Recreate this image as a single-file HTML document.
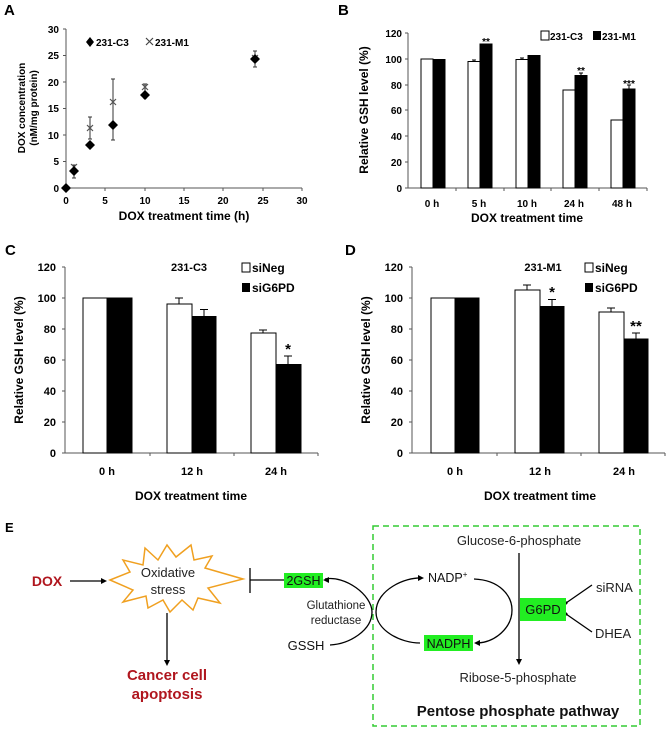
<!DOCTYPE html>
<html><head><meta charset="utf-8"><style>
body{margin:0;background:#fff}
svg{display:block;font-family:"Liberation Sans",Arial,sans-serif}
.t{font-size:10px;font-weight:bold}
.ti{font-size:12px;font-weight:bold}
.u{font-size:11px;font-weight:bold}
</style></head><body>
<svg width="669" height="731" viewBox="0 0 669 731" xmlns="http://www.w3.org/2000/svg">
<g fill="#000" stroke="none">
<!-- Panel A -->
<text x="4" y="15" font-size="15" font-weight="bold">A</text>
<g stroke="#555" stroke-width="1" fill="none">
<line x1="66" y1="29" x2="66" y2="188"/><line x1="66" y1="188" x2="302" y2="188"/>
<path d="M63 29h3M63 55.5h3M63 82h3M63 108.5h3M63 135h3M63 161.5h3M63 188h3"/>
<path d="M66 188v3M105 188v3M145 188v3M184 188v3M223 188v3M263 188v3M302 188v3"/>
</g>
<g class="t" text-anchor="end"><text x="59" y="33">30</text><text x="59" y="59">25</text><text x="59" y="86">20</text><text x="59" y="112">15</text><text x="59" y="139">10</text><text x="59" y="165">5</text><text x="59" y="192">0</text></g>
<g class="t" text-anchor="middle"><text x="66" y="204">0</text><text x="105" y="204">5</text><text x="145" y="204">10</text><text x="184" y="204">15</text><text x="223" y="204">20</text><text x="263" y="204">25</text><text x="302" y="204">30</text></g>
<text class="ti" x="184" y="220" text-anchor="middle">DOX treatment time (h)</text>
<text class="t" transform="translate(25,108) rotate(-90)" text-anchor="middle"><tspan x="0" y="0">DOX concentration</tspan><tspan x="0" y="12">(nM/mg protein)</tspan></text>
<path d="M90 37l4 5l-4 5l-4-5z"/><text class="t" x="96" y="46" font-size="11">231-C3</text>
<path d="M146 38l7 7M153 38l-7 7" stroke="#444" stroke-width="1.2"/><text class="t" x="155" y="46" font-size="11">231-M1</text>
<g stroke="#333" stroke-width="1" fill="none">
<path d="M74 165v13M72 165h4M72 178h4"/>
<path d="M90 117v22M88 117h4M88 139h4"/>
<path d="M113 79v61M111 79h4M111 140h4"/>
<path d="M145 84v14M143 84h4M143 98h4"/>
<path d="M255 51v16M253 51h4M253 67h4"/>
</g>
<g stroke="#555" stroke-width="1.2" fill="none">
<path d="M71 164l6 6M77 164l-6 6M87 125l6 6M93 125l-6 6M110 99l6 6M116 99l-6 6M142 84l6 6M148 84l-6 6M252 55l6 6M258 55l-6 6"/>
</g>
<path d="M66 183l5 5l-5 5l-5-5zM74 166l5 5l-5 5l-5-5zM90 140l5 5l-5 5l-5-5zM113 120l5 5l-5 5l-5-5zM145 90l5 5l-5 5l-5-5zM255 54l5 5l-5 5l-5-5z"/>

<!-- Panel B -->
<text x="338" y="15" font-size="15" font-weight="bold">B</text>
<g stroke="#555" fill="none"><line x1="408" y1="33" x2="408" y2="188"/><line x1="408" y1="188" x2="647" y2="188"/>
<path d="M405 33h3M405 59h3M405 85h3M405 110h3M405 136h3M405 162h3M405 188h3M456 188v3M504 188v3M551 188v3M599 188v3M647 188v3"/></g>
<g class="t" text-anchor="end"><text x="402" y="37">120</text><text x="402" y="63">100</text><text x="402" y="89">80</text><text x="402" y="114">60</text><text x="402" y="140">40</text><text x="402" y="166">20</text><text x="402" y="192">0</text></g>
<g class="t" text-anchor="middle"><text x="432" y="207">0 h</text><text x="479" y="207">5 h</text><text x="527" y="207">10 h</text><text x="574" y="207">24 h</text><text x="622" y="207">48 h</text></g>
<text class="ti" x="527" y="222" text-anchor="middle">DOX treatment time</text>
<text class="ti" transform="translate(368,110) rotate(-90)" text-anchor="middle">Relative GSH level (%)</text>
<g stroke="#000" stroke-width="1">
<rect x="421" y="59" width="12" height="129" fill="#fff"/><rect x="433" y="59.5" width="12" height="128.5"/>
<rect x="468" y="61.5" width="12" height="126.5" fill="#fff"/><rect x="480" y="44" width="12" height="144"/>
<rect x="516" y="59.5" width="12" height="128.5" fill="#fff"/><rect x="528" y="55.5" width="12" height="132.5"/>
<rect x="563" y="90" width="12" height="98" fill="#fff"/><rect x="575" y="75.5" width="12" height="112.5"/>
<rect x="611" y="120" width="12" height="68" fill="#fff"/><rect x="623" y="89" width="12" height="99"/>
<path d="M474 60v2M472 60h4M522 58v2M520 58h4M581 73v3M579 73h4M629 85v4M627 85h4" fill="none"/>
</g>
<g class="t" text-anchor="middle" font-size="11"><text x="486" y="45">**</text><text x="581" y="74">**</text><text x="629" y="87">***</text></g>
<rect x="541" y="31" width="8" height="9" fill="#fff" stroke="#000"/><text class="t" x="550" y="40" font-size="11">231-C3</text>
<rect x="593" y="31" width="8" height="9"/><text class="t" x="602" y="40" font-size="11">231-M1</text>

<!-- Panel C -->
<text x="5" y="255" font-size="15" font-weight="bold">C</text>
<g stroke="#555" fill="none"><line x1="65" y1="267" x2="65" y2="453"/><line x1="65" y1="453" x2="318" y2="453"/>
<path d="M62 267h3M62 298h3M62 329h3M62 360h3M62 391h3M62 422h3M62 453h3M150 453v3M234 453v3M318 453v3"/></g>
<g class="u" text-anchor="end"><text x="56" y="271">120</text><text x="56" y="302">100</text><text x="56" y="333">80</text><text x="56" y="364">60</text><text x="56" y="395">40</text><text x="56" y="426">20</text><text x="56" y="457">0</text></g>
<g class="u" text-anchor="middle"><text x="107" y="475">0 h</text><text x="192" y="475">12 h</text><text x="276" y="475">24 h</text></g>
<text class="ti" x="191" y="500" text-anchor="middle">DOX treatment time</text>
<text class="ti" transform="translate(23,360) rotate(-90)" text-anchor="middle">Relative GSH level (%)</text>
<text class="u" x="189" y="271" text-anchor="middle">231-C3</text>
<rect x="242" y="263" width="8" height="9" fill="#fff" stroke="#000"/><text class="ti" x="252" y="272">siNeg</text>
<rect x="242" y="283" width="8" height="9"/><text class="ti" x="252" y="292">siG6PD</text>
<g stroke="#000">
<rect x="83" y="298" width="24" height="155" fill="#fff"/><rect x="107" y="298" width="25" height="155"/>
<rect x="167" y="304" width="25" height="149" fill="#fff"/><rect x="192" y="316.5" width="24" height="136.5"/>
<rect x="251" y="333" width="25" height="120" fill="#fff"/><rect x="276" y="364.5" width="25" height="88.5"/>
<path d="M179 298v6M175 298h8M204 309.5v7M200 309.5h8M263 330v3M259 330h8M288 356v8.5M284 356h8" fill="none"/>
</g>
<text x="288" y="354" text-anchor="middle" font-size="15" font-weight="bold">*</text>

<!-- Panel D -->
<text x="345" y="255" font-size="15" font-weight="bold">D</text>
<g stroke="#555" fill="none"><line x1="412" y1="267" x2="412" y2="453"/><line x1="412" y1="453" x2="665" y2="453"/>
<path d="M409 267h3M409 298h3M409 329h3M409 360h3M409 391h3M409 422h3M409 453h3M497 453v3M581 453v3M665 453v3"/></g>
<g class="u" text-anchor="end"><text x="403" y="271">120</text><text x="403" y="302">100</text><text x="403" y="333">80</text><text x="403" y="364">60</text><text x="403" y="395">40</text><text x="403" y="426">20</text><text x="403" y="457">0</text></g>
<g class="u" text-anchor="middle"><text x="455" y="475">0 h</text><text x="540" y="475">12 h</text><text x="624" y="475">24 h</text></g>
<text class="ti" x="540" y="500" text-anchor="middle">DOX treatment time</text>
<text class="ti" transform="translate(370,360) rotate(-90)" text-anchor="middle">Relative GSH level (%)</text>
<text class="u" x="543" y="271" text-anchor="middle">231-M1</text>
<rect x="585" y="263" width="8" height="9" fill="#fff" stroke="#000"/><text class="ti" x="595" y="272">siNeg</text>
<rect x="585" y="283" width="8" height="9"/><text class="ti" x="595" y="292">siG6PD</text>
<g stroke="#000">
<rect x="431" y="298" width="24" height="155" fill="#fff"/><rect x="455" y="298" width="24" height="155"/>
<rect x="515" y="290" width="25" height="163" fill="#fff"/><rect x="540" y="306.5" width="24" height="146.5"/>
<rect x="599" y="312" width="25" height="141" fill="#fff"/><rect x="624" y="339" width="24" height="114"/>
<path d="M527 285v5M523 285h8M552 299.5v7M548 299.5h8M611 308v4M607 308h8M636 333v6M632 333h8" fill="none"/>
</g>
<text x="552" y="297" text-anchor="middle" font-size="15" font-weight="bold">*</text>
<text x="636" y="331" text-anchor="middle" font-size="15" font-weight="bold">**</text>

<!-- Panel E -->
<text x="5" y="532" font-size="13" font-weight="bold">E</text>
<rect x="373" y="526" width="267" height="200" fill="none" stroke="#3c3" stroke-width="1.5" stroke-dasharray="6,4"/>
<text x="47" y="586" font-size="14" font-weight="bold" fill="#b0161e" text-anchor="middle">DOX</text>
<g stroke="#000" stroke-width="1.3" fill="none">
<line x1="70" y1="581" x2="102" y2="581"/><line x1="167" y1="613" x2="167" y2="662"/>
<line x1="250" y1="568" x2="250" y2="593"/><line x1="250" y1="580" x2="284" y2="580"/>
<line x1="519" y1="553" x2="519" y2="660"/>
<path d="M325 579 C345 575 372 595 372 612 C372 630 350 644 330 645"/>
<path d="M376 612 C376 590 405 577 422 578"/>
<path d="M474 579 C500 580 512 596 512 610 C512 628 495 642 478 643"/>
<path d="M376 612 C376 630 400 643 420 643"/>
<path d="M566 603 L592 585 M566 614 L592 632 M563 599 l4 4 l-4 4 M563 610 l4 4 l-4 4"/>
</g>
<g fill="#000"><path d="M107 581l-6-3v6zM167 666l-3-6h6zM323 580l6-3v6zM424 578l-6-3v6zM474 643l6-3v6zM519 665l-3-6h6z"/></g>
<polygon points="110,580 130,572 123,560 143,565 145,548 158,560 167,545 176,557 191,545 194,560 212,556 205,568 243,579 208,588 220,603 198,598 193,610 182,600 170,612 163,600 148,608 146,596 123,602 133,590" fill="#fff" stroke="#f0a020" stroke-width="1.5"/>
<g font-size="13" text-anchor="middle" fill="#222"><text x="168" y="577">Oxidative</text><text x="168" y="594">stress</text></g>
<text x="167" y="680" font-size="15" font-weight="bold" fill="#b0161e" text-anchor="middle">Cancer cell</text>
<text x="167" y="699" font-size="15" font-weight="bold" fill="#b0161e" text-anchor="middle">apoptosis</text>
<rect x="284" y="573" width="39" height="15" fill="#2e2"/><text x="303.5" y="585" font-size="12.5" text-anchor="middle" fill="#111">2GSH</text>
<g font-size="11.5" text-anchor="middle" fill="#222"><text x="336" y="609">Glutathione</text><text x="336" y="624">reductase</text></g>
<text x="306" y="650" font-size="13" text-anchor="middle" fill="#111">GSSH</text>
<text x="428" y="582" font-size="12.5" fill="#111">NADP<tspan font-size="8" dy="-5">+</tspan></text>
<rect x="424" y="635" width="49" height="16" fill="#2e2"/><text x="448.5" y="648" font-size="12.5" text-anchor="middle" fill="#111">NADPH</text>
<rect x="520" y="598" width="46" height="23" fill="#2e2"/><text x="543" y="614" font-size="13" text-anchor="middle" fill="#111">G6PD</text>
<text x="519" y="545" font-size="13" text-anchor="middle" fill="#222">Glucose-6-phosphate</text>
<text x="518" y="682" font-size="13" text-anchor="middle" fill="#222">Ribose-5-phosphate</text>
<text x="596" y="592" font-size="13" fill="#222">siRNA</text>
<text x="595" y="638" font-size="13" fill="#222">DHEA</text>
<text x="518" y="716" font-size="15" font-weight="bold" text-anchor="middle" fill="#111">Pentose phosphate pathway</text>
</g>
</svg>
</body></html>
